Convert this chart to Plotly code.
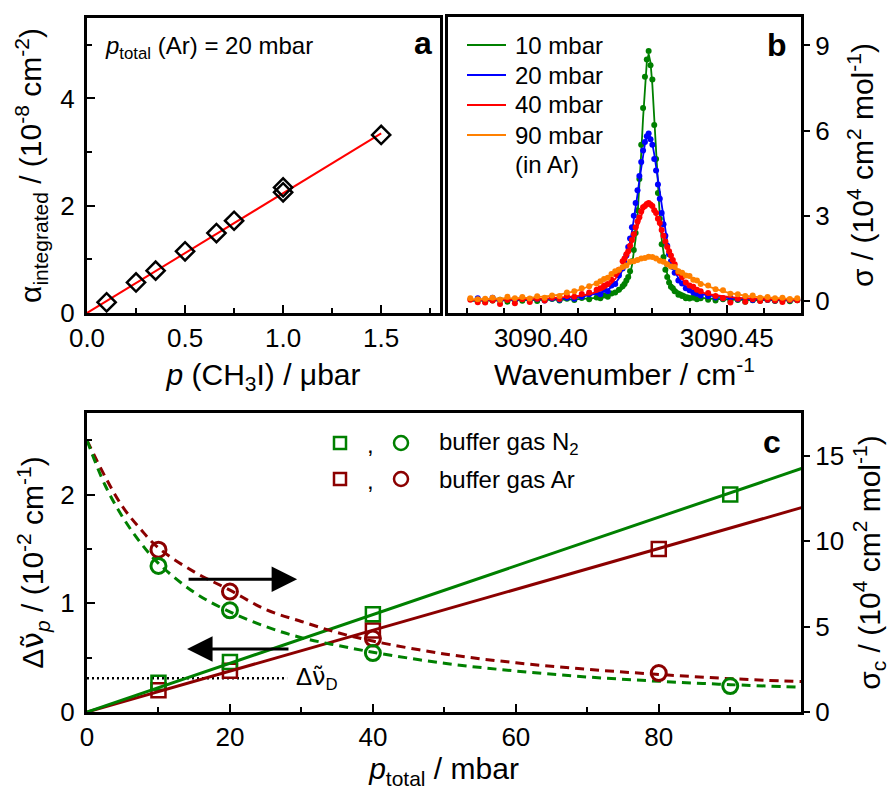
import plotly.graph_objects as go

# ---------------- panel a: integrated absorption vs. CH3I pressure ----------------
p_ch3i = [0.1, 0.25, 0.35, 0.5, 0.66, 0.75, 1.0, 1.0, 1.5]
alpha_int = [0.20, 0.57, 0.79, 1.15, 1.49, 1.72, 2.25, 2.34, 3.32]
p_ch3i_fit = [0.0, 1.5]
alpha_fit = [0.0, 3.35]

# ---------------- panel b: line profiles at different Ar pressures ----------------
wavenumber = [
    3090.381, 3090.383, 3090.385, 3090.387, 3090.389, 3090.391, 3090.393, 3090.395, 3090.397,
    3090.399, 3090.401, 3090.403, 3090.405, 3090.407, 3090.409, 3090.411, 3090.413,
    3090.415, 3090.416, 3090.417, 3090.418, 3090.419, 3090.420, 3090.421, 3090.422,
    3090.4225, 3090.423, 3090.4235, 3090.424, 3090.4245, 3090.425, 3090.4255, 3090.426,
    3090.4265, 3090.427, 3090.4275, 3090.428, 3090.4285, 3090.429, 3090.4295, 3090.430,
    3090.4305, 3090.431, 3090.4315, 3090.432, 3090.4325, 3090.433, 3090.4335, 3090.434,
    3090.4345, 3090.435, 3090.4355,
    3090.436, 3090.437, 3090.438, 3090.439, 3090.440, 3090.441, 3090.442, 3090.443,
    3090.445, 3090.447, 3090.449, 3090.451, 3090.453, 3090.455, 3090.457, 3090.459,
    3090.461, 3090.463, 3090.465, 3090.467, 3090.469,
]

sigma_10_fit = [
    0.01, 0.011, 0.012, 0.013, 0.015, 0.016, 0.018, 0.02, 0.023, 0.026, 0.03, 0.035, 0.04, 0.048, 0.058, 0.07, 0.09,
    0.115, 0.13, 0.155, 0.18, 0.22, 0.27, 0.34, 0.44,
    0.52, 0.62, 0.76, 0.95, 1.25, 1.65, 2.20, 3.00, 4.00, 5.20, 6.45, 7.60, 8.40,
    8.70,
    8.40, 7.60, 6.45, 5.20, 4.00, 3.00, 2.20, 1.65, 1.25, 0.95, 0.76, 0.62, 0.52,
    0.44, 0.34, 0.27, 0.22, 0.18, 0.155, 0.13, 0.115,
    0.09, 0.07, 0.058, 0.048, 0.04, 0.035, 0.03, 0.026, 0.023, 0.02, 0.018, 0.016, 0.015,
]
sigma_10_meas = [
    None, None, -0.03, 0.02, 0.05, -0.02, 0.04, 0.01, 0.06, 0.0, 0.05, 0.07, 0.02, 0.08, 0.04, 0.11, 0.06,
    0.13, 0.1, 0.2, 0.15, 0.27, 0.3, 0.4, 0.52,
    0.6, 0.72, 0.85, 1.05, 1.4, 1.8, 2.4, 3.2, 4.3, 5.5, 6.8, 7.9, 8.5,
    8.8,
    8.3, 7.8, 6.2, 5.0, 3.8, 2.9, 2.0, 1.55, 1.1, 0.85, 0.65, 0.5, 0.45,
    0.35, 0.22, 0.18, 0.1, 0.09, 0.12, 0.06, 0.1,
    0.05, 0.02, 0.06, 0.0, 0.04, -0.02, 0.03, 0.01, 0.04, 0.0, 0.02, -0.01, 0.03,
]

sigma_20_fit = [
    0.023, 0.025, 0.027, 0.03, 0.033, 0.037, 0.041, 0.046, 0.051, 0.058, 0.067, 0.078, 0.09, 0.108, 0.13, 0.157, 0.20,
    0.25, 0.29, 0.34, 0.40, 0.49, 0.61, 0.80, 1.08,
    1.28, 1.50, 1.77, 2.08, 2.44, 2.84, 3.29, 3.76, 4.25, 4.73, 5.17, 5.53, 5.77,
    5.85,
    5.77, 5.53, 5.17, 4.73, 4.25, 3.76, 3.29, 2.84, 2.44, 2.08, 1.77, 1.50, 1.28,
    1.08, 0.80, 0.61, 0.49, 0.40, 0.34, 0.29, 0.25,
    0.20, 0.157, 0.13, 0.108, 0.09, 0.078, 0.067, 0.058, 0.051, 0.046, 0.041, 0.037, 0.033,
]
sigma_20_meas = [
    None, 0.1, 0.05, 0.12, 0.02, 0.08, 0.04, 0.1, 0.03, 0.07, 0.02, 0.09, 0.05, 0.12, 0.08, 0.15, 0.24,
    0.3, 0.24, 0.4, 0.35, 0.55, 0.6, 0.9, 1.15,
    1.35, 1.6, 1.9, 2.2, 2.6, 3.0, 3.45, 3.9, 4.4, 4.9, 5.3, 5.6, 5.8,
    5.9,
    5.7, 5.5, 5.0, 4.6, 4.1, 3.6, 3.1, 2.7, 2.3, 1.95, 1.65, 1.4, 1.2,
    1.0, 0.72, 0.62, 0.45, 0.38, 0.3, 0.26, 0.2,
    0.17, 0.13, 0.1, 0.12, 0.06, 0.08, 0.04, 0.07, 0.05, 0.02, 0.06, 0.03, 0.05,
]

sigma_40_fit = [
    0.03, 0.032, 0.035, 0.039, 0.043, 0.047, 0.052, 0.059, 0.066, 0.075, 0.086, 0.099, 0.115, 0.137, 0.163, 0.20, 0.24,
    0.32, 0.37, 0.43, 0.52, 0.63, 0.78, 0.97, 1.21,
    1.35, 1.50, 1.66, 1.84, 2.03, 2.23, 2.44, 2.64, 2.84, 3.02, 3.18, 3.30, 3.37,
    3.40,
    3.37, 3.30, 3.18, 3.02, 2.84, 2.64, 2.44, 2.23, 2.03, 1.84, 1.66, 1.50, 1.35,
    1.21, 0.97, 0.78, 0.63, 0.52, 0.43, 0.37, 0.32,
    0.24, 0.20, 0.163, 0.137, 0.115, 0.099, 0.086, 0.075, 0.066, 0.059, 0.052, 0.047, 0.043,
]
sigma_40_meas = [
    0.05, -0.04, -0.05, 0.02, -0.1, 0.04, -0.08, 0.06, -0.03, 0.08, 0.02, 0.12, 0.07, 0.18, 0.15, 0.25, 0.3,
    0.4, 0.45, 0.55, 0.6, 0.75, 0.95, 1.1, 1.4,
    1.5, 1.65, 1.75, 1.95, 2.15, 2.35, 2.6, 2.8, 2.95, 3.15, 3.3, 3.35, 3.42,
    3.45,
    3.4, 3.35, 3.2, 3.1, 2.9, 2.75, 2.5, 2.3, 2.1, 1.9, 1.75, 1.6, 1.45,
    1.3, 1.0, 0.85, 0.65, 0.55, 0.5, 0.4, 0.35,
    0.28, 0.18, 0.1, -0.05, 0.08, -0.02, 0.06, 0.0, 0.05, 0.02, -0.03, 0.04, 0.03,
]

sigma_90_fit = [
    0.055, 0.06, 0.064, 0.07, 0.077, 0.085, 0.094, 0.105, 0.12, 0.137, 0.157, 0.187, 0.225, 0.28, 0.34, 0.417, 0.515,
    0.635, 0.70, 0.775, 0.85, 0.93, 1.01, 1.10, 1.18,
    1.23, 1.27, 1.31, 1.34, 1.38, 1.41, 1.44, 1.47, 1.49, 1.51, 1.53, 1.54, 1.55,
    1.55,
    1.55, 1.54, 1.53, 1.51, 1.49, 1.47, 1.44, 1.41, 1.38, 1.34, 1.31, 1.27, 1.23,
    1.18, 1.10, 1.01, 0.93, 0.85, 0.775, 0.70, 0.635,
    0.515, 0.417, 0.34, 0.28, 0.225, 0.187, 0.157, 0.137, 0.12, 0.105, 0.094, 0.085, 0.077,
]
sigma_90_meas = [
    0.1, 0.06, 0.08, 0.12, 0.05, 0.15, 0.1, 0.14, 0.09, 0.17, 0.12, 0.2, 0.18, 0.3, 0.35, 0.45, 0.52,
    0.62, 0.7, 0.78, 0.82, 0.95, 1.05, 1.1, 1.2,
    None, 1.25, None, 1.38, None, 1.4, None, 1.45, None, 1.5, None, 1.52, None,
    1.56,
    None, 1.55, None, 1.5, None, 1.42, None, 1.38, None, 1.3, None, 1.22, None,
    1.2, 1.05, 1.0, 0.9, 0.88, 0.75, 0.72, 0.6,
    0.55, 0.42, 0.38, 0.26, 0.24, 0.18, 0.2, 0.12, 0.14, 0.1, 0.12, 0.07, 0.1,
]

profile_labels = ["10 mbar", "20 mbar", "40 mbar", "90 mbar"]

# ---------------- panel c: pressure broadening and peak cross sections ----------------
p_width_n2 = [10, 20, 40, 90]
width_n2 = [0.27, 0.46, 0.90, 2.00]
p_width_ar = [10, 20, 40, 80]
width_ar = [0.20, 0.38, 0.75, 1.50]

p_width_fit = [0, 100]
width_n2_fit = [0.0, 2.24]
width_ar_fit = [0.0, 1.88]

p_sigma_n2 = [10, 20, 40, 90]
sigma_c_n2 = [8.55, 5.95, 3.45, 1.52]
p_sigma_ar = [10, 20, 40, 80]
sigma_c_ar = [9.5, 7.05, 4.3, 2.28]

p_sigma_fit = [0, 2.5, 5, 7.5, 10, 15, 20, 25, 30, 35, 40, 50, 60, 70, 80, 90, 100]
sigma_c_n2_fit = [15.9, 13.3, 11.4, 9.9, 8.7, 7.0, 5.86, 5.0, 4.35, 3.9, 3.5, 2.85, 2.4, 2.05, 1.8, 1.6, 1.45]
sigma_c_ar_fit = [15.9, 13.8, 12.0, 10.7, 9.6, 8.2, 7.13, 6.0, 5.3, 4.65, 4.15, 3.4, 2.88, 2.5, 2.2, 1.95, 1.78]

doppler_width = 0.31
doppler_line_end = 28

buffer_labels = ["buffer gas N<sub>2</sub>", "buffer gas Ar"]

# ---------------- styling ----------------
W, H = 893, 791
FONT = "Liberation Sans, Arial, sans-serif"
GREEN = "#008000"
DARKRED = "#8b0000"
PROFILE_COLORS = ["#008000", "#0000ff", "#ff0000", "#ff8000"]
TICK = 26
TITLE = 30
TEXT = 24
# nu with a combining tilde, set in a font that places the mark over the base letter
NU_TILDE = '<span style="font-family:DejaVu Sans">\u03bd\u0303</span>'


def fx(px):
    return px / W


def fy(py):
    return 1 - py / H


def axis(**kw):
    base = dict(
        showline=True, linecolor="black", linewidth=3, mirror=True,
        showgrid=False, zeroline=False,
        ticks="inside", ticklen=8, tickwidth=2, tickcolor="black",
        tickfont=dict(family=FONT, size=TICK, color="black"),
        title_font=dict(family=FONT, size=TITLE, color="black"),
        automargin=False,
    )
    base.update(kw)
    return base


def minor(dtick, ticks="inside", tick0=None):
    m = dict(ticks=ticks, dtick=dtick, ticklen=5, tickwidth=2, tickcolor="black", showgrid=False)
    if tick0 is not None:
        m["tick0"] = tick0
    return m


fig = go.Figure()

# panel a
fig.add_trace(go.Scatter(x=p_ch3i_fit, y=alpha_fit, mode="lines",
                         line=dict(color="#ff0000", width=2), xaxis="x", yaxis="y"))
fig.add_trace(go.Scatter(x=p_ch3i, y=alpha_int, mode="markers",
                         marker=dict(symbol="diamond-open", size=14, color="black", line=dict(width=2.5)),
                         xaxis="x", yaxis="y"))

# panel b
profiles = [
    (sigma_10_fit, sigma_10_meas),
    (sigma_20_fit, sigma_20_meas),
    (sigma_40_fit, sigma_40_meas),
    (sigma_90_fit, sigma_90_meas),
]
for (fit, meas), col in zip(profiles, PROFILE_COLORS):
    fig.add_trace(go.Scatter(x=wavenumber, y=meas, mode="markers",
                             marker=dict(size=6, color=col), xaxis="x2", yaxis="y2"))
    fig.add_trace(go.Scatter(x=wavenumber, y=fit, mode="lines", line=dict(color=col, width=1.8),
                             xaxis="x2", yaxis="y2"))

# panel c: dashed cross-section fits and circles (right axis)
fig.add_trace(go.Scatter(x=p_sigma_fit, y=sigma_c_ar_fit, mode="lines", line_shape="spline",
                         line=dict(color=DARKRED, width=3, dash="9px,6px"), xaxis="x3", yaxis="y4"))
fig.add_trace(go.Scatter(x=p_sigma_fit, y=sigma_c_n2_fit, mode="lines", line_shape="spline",
                         line=dict(color=GREEN, width=3, dash="9px,6px"), xaxis="x3", yaxis="y4"))
fig.add_trace(go.Scatter(x=p_sigma_ar, y=sigma_c_ar, mode="markers",
                         marker=dict(symbol="circle-open", size=15, color=DARKRED, line=dict(width=3)),
                         xaxis="x3", yaxis="y4"))
fig.add_trace(go.Scatter(x=p_sigma_n2, y=sigma_c_n2, mode="markers",
                         marker=dict(symbol="circle-open", size=15, color=GREEN, line=dict(width=3)),
                         xaxis="x3", yaxis="y4"))

# panel c: Doppler width and linear pressure broadening (left axis)
fig.add_trace(go.Scatter(x=[0, doppler_line_end], y=[doppler_width, doppler_width], mode="lines",
                         line=dict(color="black", width=2.5, dash="2px,3px"), xaxis="x3", yaxis="y3"))
fig.add_trace(go.Scatter(x=p_width_ar, y=width_ar, mode="markers",
                         marker=dict(symbol="square-open", size=14, color=DARKRED, line=dict(width=2.5)),
                         xaxis="x3", yaxis="y3"))
fig.add_trace(go.Scatter(x=p_width_n2, y=width_n2, mode="markers",
                         marker=dict(symbol="square-open", size=14, color=GREEN, line=dict(width=2.5)),
                         xaxis="x3", yaxis="y3"))
fig.add_trace(go.Scatter(x=p_width_fit, y=width_ar_fit, mode="lines",
                         line=dict(color=DARKRED, width=3), xaxis="x3", yaxis="y3"))
fig.add_trace(go.Scatter(x=p_width_fit, y=width_n2_fit, mode="lines",
                         line=dict(color=GREEN, width=3), xaxis="x3", yaxis="y3"))

fig.update_layout(
    width=W, height=H, margin=dict(l=0, r=0, t=0, b=0),
    paper_bgcolor="white", plot_bgcolor="white", showlegend=False,
    font=dict(family=FONT, color="black"),
    xaxis=axis(domain=[fx(87), fx(440)], anchor="y", range=[0, 1.8], tick0=0, dtick=0.5,
               tickformat=".1f", minor=minor(0.25),
               title=dict(text="<i>p</i> (CH<sub>3</sub>I) / \u03bcbar", standoff=12)),
    yaxis=axis(domain=[fy(313), fy(18)], anchor="x", range=[0, 5.5], tick0=0, dtick=2,
               minor=minor(1), ticklabelstandoff=4,
               title=dict(text="\u03b1<sub>integrated</sub> / (10<sup>-8</sup> cm<sup>-2</sup>)", standoff=10)),
    xaxis2=axis(domain=[fx(448), fx(801)], anchor="y2", range=[3090.375, 3090.470],
                tick0=3090.40, dtick=0.05, tickformat=".2f", minor=minor(0.01, tick0=3090.40),
                title=dict(text="Wavenumber / cm<sup>-1</sup>", standoff=12)),
    yaxis2=axis(domain=[fy(313), fy(17)], anchor="x2", side="right", range=[-0.42, 10],
                tick0=0, dtick=3, ticks="outside", ticklen=6,
                title=dict(text="\u03c3 / (10<sup>4</sup> cm<sup>2</sup> mol<sup>-1</sup>)", standoff=24)),
    xaxis3=axis(domain=[fx(87), fx(801)], anchor="y3", range=[0, 99.9], tick0=0, dtick=20,
                minor=minor(10),
                title=dict(text="<i>p</i><sub>total</sub> / mbar", standoff=6)),
    yaxis3=axis(domain=[fy(712), fy(413)], anchor="x3", range=[0, 2.75], tick0=0, dtick=1,
                minor=minor(0.5), ticklabelstandoff=4,
                title=dict(text="\u0394" + NU_TILDE + "<sub><i>p</i></sub> / (10<sup>-2</sup> cm<sup>-1</sup>)",
                           standoff=8)),
    yaxis4=axis(domain=[fy(712), fy(413)], anchor="x3", overlaying="y3", side="right",
                range=[0, 17.5], tick0=0, dtick=5, ticks="outside", ticklen=6, mirror=False,
                title=dict(text="\u03c3<sub>c</sub> / (10<sup>4</sup> cm<sup>2</sup> mol<sup>-1</sup>)",
                           standoff=16)),
)

ann = []
shapes = []


def text(x, y, s, size=TEXT, xanchor="left", bold=False):
    ann.append(dict(x=fx(x), y=fy(y), xref="paper", yref="paper", text=f"<b>{s}</b>" if bold else s,
                    showarrow=False, xanchor=xanchor, yanchor="middle",
                    font=dict(family=FONT, size=size, color="black")))


# panel letters
text(423, 43, "a", size=32, xanchor="center", bold=True)
text(777, 45, "b", size=32, xanchor="center", bold=True)
text(772, 442, "c", size=32, xanchor="center", bold=True)

# panel a condition
text(103, 47, "<i>p</i><sub>total</sub> (Ar) = 20 mbar")

# panel b key
for i, (lab, col) in enumerate(zip(profile_labels, PROFILE_COLORS)):
    yy = 45 + 30 * i
    shapes.append(dict(type="line", xref="paper", yref="paper", x0=fx(467), x1=fx(506), y0=fy(yy), y1=fy(yy),
                       line=dict(color=col, width=2)))
    text(513, yy, lab)
text(513, 165, "(in Ar)")

# panel c key
for yy, col, lab in [(443, GREEN, buffer_labels[0]), (479, DARKRED, buffer_labels[1])]:
    shapes.append(dict(type="rect", xref="paper", yref="paper", x0=fx(334), x1=fx(346), y0=fy(yy + 6),
                       y1=fy(yy - 6), line=dict(color=col, width=2.5)))
    shapes.append(dict(type="circle", xref="paper", yref="paper", x0=fx(394), x1=fx(408), y0=fy(yy + 7),
                       y1=fy(yy - 7), line=dict(color=col, width=2.5)))
    text(370, yy + 2, ",", xanchor="center")
    text(437, yy, lab)

# Doppler width label
ann.append(dict(x=29.0, y=doppler_width, xref="x3", yref="y3", text="\u0394" + NU_TILDE + "<sub>D</sub>",
                showarrow=False, xanchor="left", yanchor="middle",
                font=dict(family=FONT, size=TEXT, color="black")))

# arrows pointing to the relevant axes
ann.append(dict(x=29.4, y=1.22, ax=14, ay=1.22, xref="x3", yref="y3", axref="x3", ayref="y3", text="",
                showarrow=True, arrowhead=2, arrowsize=1.7, arrowwidth=3, arrowcolor="black"))
ann.append(dict(x=14, y=0.58, ax=28.4, ay=0.58, xref="x3", yref="y3", axref="x3", ayref="y3", text="",
                showarrow=True, arrowhead=2, arrowsize=1.7, arrowwidth=3, arrowcolor="black"))

fig.update_layout(annotations=ann, shapes=shapes)
fig.write_html("out.html")
